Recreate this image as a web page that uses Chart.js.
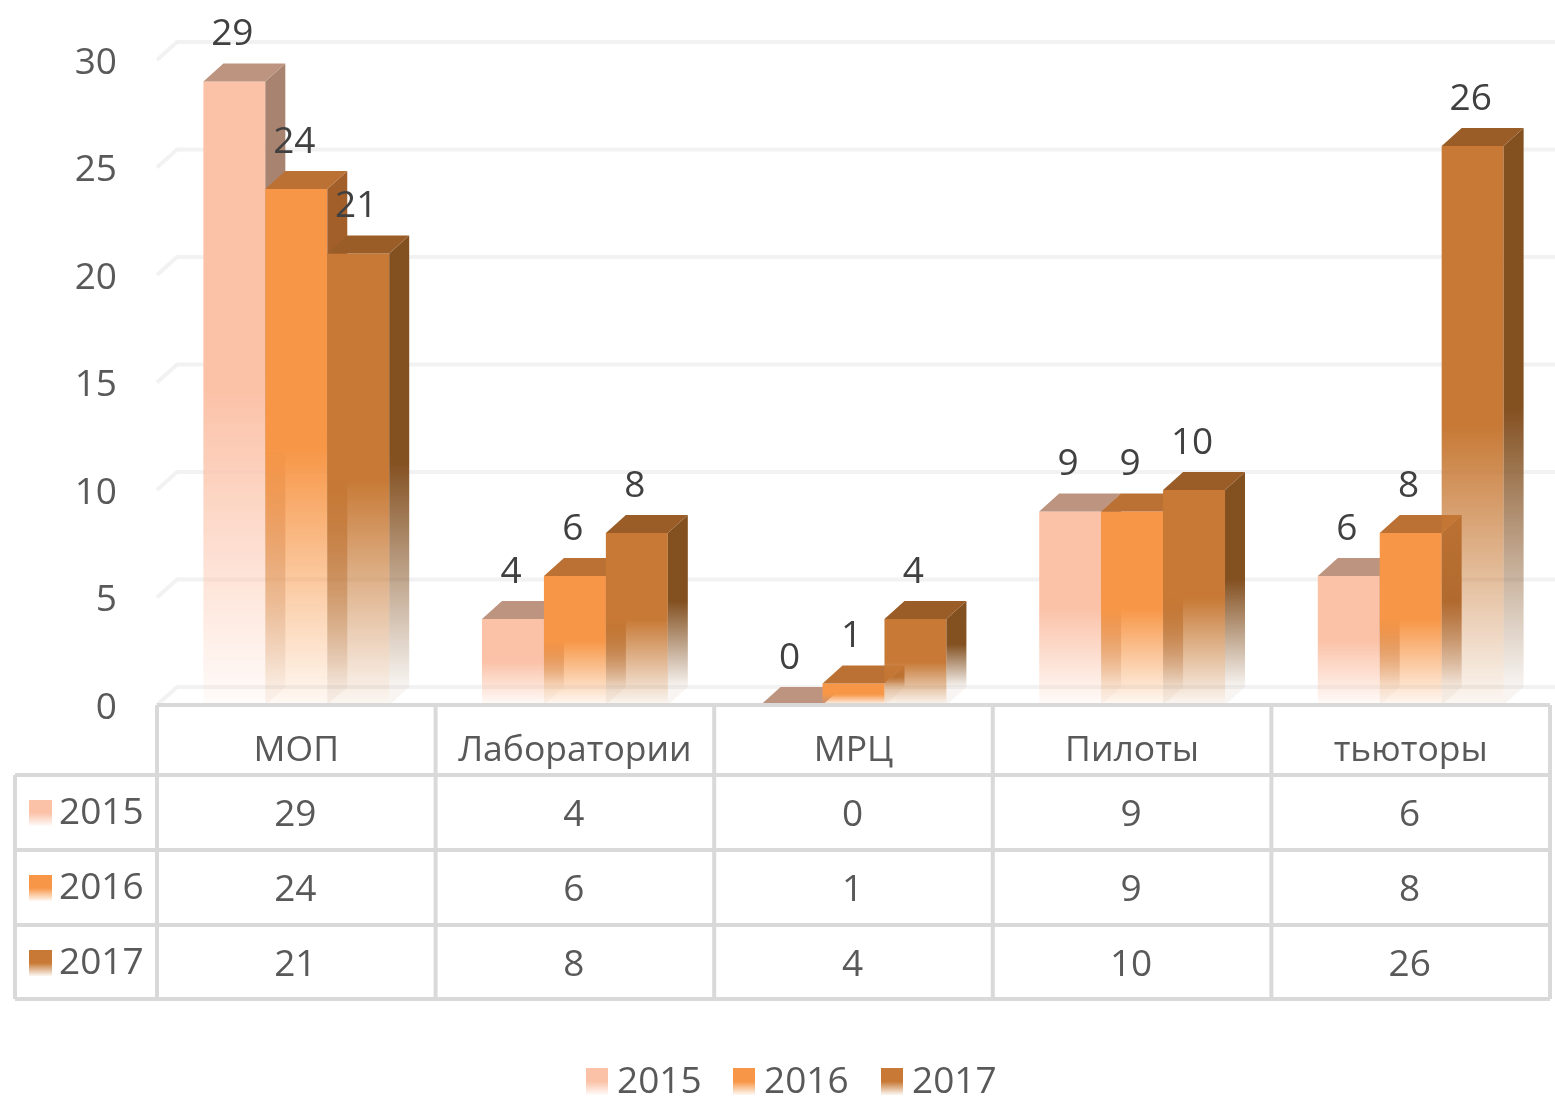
<!DOCTYPE html>
<html lang="ru">
  <head>
    <meta charset="UTF-8" />
    <title>Chart</title>
    <script src="https://cdn.jsdelivr.net/npm/chart.js"></script>
    <style>
      body {
        margin: 0;
        background: #ffffff;
      }
      canvas {
        display: block;
        filter: blur(0.6px);
      }
    </style>
  </head>
  <body>
    <canvas id="barChart" width="1555" height="1098"></canvas>

    <script>
      const categories = ["МОП", "Лаборатории", "МРЦ", "Пилоты", "тьюторы"];
      const seriesNames = ["2015", "2016", "2017"];
      const values2015 = [29, 4, 0, 9, 6];
      const values2016 = [24, 6, 1, 9, 8];
      const values2017 = [21, 8, 4, 10, 26];

      const frontColors = ["251,194,168", "247,150,70", "199,121,53"];
      const topColors = ["189,148,128", "188,113,52", "154,93,40"];
      const sideColors = ["168,131,111", "162,95,42", "131,80,32"];

      const textColor = "#595959";
      const lineColor = "#d9d9d9";
      const wallColor = "#f2f2f2";
      const fontName = "'Open Sans'";
      const fontSize = 37;
      const depthX = 20;
      const depthY = 18;

      function fade(ctx, top, bottom, rgb) {
        const g = ctx.createLinearGradient(0, top, 0, bottom);
        g.addColorStop(0, `rgba(${rgb},1)`);
        g.addColorStop(0.5, `rgba(${rgb},1)`);
        g.addColorStop(1, `rgba(${rgb},0.06)`);
        return g;
      }

      function barFill(context) {
        const solid = `rgb(${frontColors[context.datasetIndex]})`;
        const yScale = context.chart.scales.y;
        if (!yScale || !context.parsed) return solid;
        const top = yScale.getPixelForValue(context.parsed.y);
        const bottom = yScale.getPixelForValue(0);
        // scales have no pixels yet during the first pass
        if (!Number.isFinite(top) || !Number.isFinite(bottom)) return solid;
        return fade(context.chart.ctx, top, bottom, frontColors[context.datasetIndex]);
      }

      function polygon(ctx, points, fill) {
        ctx.fillStyle = fill;
        ctx.beginPath();
        points.forEach((p, i) => (i ? ctx.lineTo(p[0], p[1]) : ctx.moveTo(p[0], p[1])));
        ctx.closePath();
        ctx.fill();
      }

      // top and side faces of one series
      function drawFaces(ctx, meta, i) {
        meta.data.forEach((bar) => {
          const left = bar.x - bar.width / 2;
          const right = bar.x + bar.width / 2;
          polygon(
            ctx,
            [
              [right, bar.y],
              [right + depthX, bar.y - depthY],
              [right + depthX, bar.base - depthY],
              [right, bar.base],
            ],
            fade(ctx, bar.y - depthY, bar.base - depthY, sideColors[i])
          );
          polygon(
            ctx,
            [
              [left, bar.y],
              [left + depthX, bar.y - depthY],
              [right + depthX, bar.y - depthY],
              [right, bar.y],
            ],
            `rgb(${topColors[i]})`
          );
        });
      }

      const threeD = {
        id: "threeD",
        beforeDatasetsDraw(chart) {
          const { ctx, chartArea, scales } = chart;
          ctx.save();
          ctx.strokeStyle = wallColor;
          ctx.lineWidth = 4;
          scales.y.ticks.forEach((tick) => {
            const y = scales.y.getPixelForValue(tick.value);
            ctx.beginPath();
            ctx.moveTo(chartArea.left, y);
            ctx.lineTo(chartArea.left + depthX, y - depthY);
            ctx.lineTo(chartArea.right + 5, y - depthY);
            ctx.stroke();
          });
          // Chart.js paints the last series first, here the first has to go first
          chart.data.datasets.forEach((set, i) => {
            const meta = chart.getDatasetMeta(i);
            meta.controller.draw();
            drawFaces(ctx, meta, i);
          });
          ctx.restore();
        },
        beforeDatasetDraw() {
          return false;
        },
        afterDatasetsDraw(chart) {
          const { ctx, scales, data } = chart;
          const x = scales.x;
          const rowTops = [775, 850, 925];
          const tableBottom = 999;
          const colWidth = x.getPixelForTick(1) - x.getPixelForTick(0);
          const left = x.getPixelForTick(0) - colWidth / 2;
          const right = x.getPixelForTick(categories.length - 1) + colWidth / 2;

          ctx.save();
          ctx.font = `${fontSize}px ${fontName}`;
          ctx.textBaseline = "middle";

          // y tick labels
          ctx.fillStyle = textColor;
          ctx.textAlign = "right";
          scales.y.ticks.forEach((tick) => {
            ctx.fillText(tick.label, 117, scales.y.getPixelForValue(tick.value) + 3);
          });

          // value labels over the bars
          ctx.textAlign = "center";
          ctx.fillStyle = "#404040";
          data.datasets.forEach((set, i) => {
            chart.getDatasetMeta(i).data.forEach((bar, j) => {
              ctx.fillText(set.data[j], bar.x - 2, bar.y - depthY - 29);
            });
          });

          // data table grid
          ctx.strokeStyle = lineColor;
          ctx.lineWidth = 4;
          const hLine = (y, from) => {
            ctx.beginPath();
            ctx.moveTo(from, y);
            ctx.lineTo(right, y);
            ctx.stroke();
          };
          const vLine = (px, from) => {
            ctx.beginPath();
            ctx.moveTo(px, from);
            ctx.lineTo(px, tableBottom);
            ctx.stroke();
          };
          hLine(scales.y.getPixelForValue(0), left);
          rowTops.forEach((y) => hLine(y, 15));
          hLine(tableBottom, 15);
          vLine(15, rowTops[0]);
          for (let c = 0; c <= categories.length; c++) {
            vLine(left + c * colWidth, scales.y.getPixelForValue(0));
          }

          // data table text and swatches
          data.datasets.forEach((set, i) => {
            const rowMid = rowTops[i] + 38;
            ctx.fillStyle = textColor;
            ctx.textAlign = "center";
            set.data.forEach((v, j) => {
              ctx.fillText(v, x.getPixelForTick(j) - 1, rowMid + 2);
            });
            ctx.textAlign = "left";
            ctx.fillText(set.label, 59, rowMid);
            ctx.fillStyle = fade(ctx, rowMid - 13, rowMid + 13, frontColors[i]);
            ctx.fillRect(29, rowMid - 13, 23, 26);
          });

          // legend row
          const legendX = [586, 733, 881];
          data.datasets.forEach((set, i) => {
            ctx.fillStyle = fade(ctx, 1068, 1095, frontColors[i]);
            ctx.fillRect(legendX[i], 1068, 22, 27);
            ctx.fillStyle = textColor;
            ctx.textAlign = "left";
            ctx.fillText(set.label, legendX[i] + 31, 1082);
          });
          ctx.restore();
        },
      };

      new Chart(document.getElementById("barChart"), {
        type: "bar",
        data: {
          labels: categories,
          datasets: [
            { label: seriesNames[0], data: values2015, backgroundColor: barFill },
            { label: seriesNames[1], data: values2016, backgroundColor: barFill },
            { label: seriesNames[2], data: values2017, backgroundColor: barFill },
          ],
        },
        options: {
          responsive: false,
          animation: false,
          layout: { padding: { top: 60, right: 5, left: 0, bottom: 0 } },
          categoryPercentage: 0.667,
          barPercentage: 1,
          plugins: {
            legend: { display: false },
            tooltip: { enabled: false },
          },
          scales: {
            x: {
              grid: { display: false },
              border: { display: false },
              afterFit(scale) {
                scale.height = 393;
              },
              ticks: {
                padding: 17,
                maxRotation: 0,
                color: textColor,
                font: { family: fontName, size: 35.5 },
              },
            },
            y: {
              min: 0,
              max: 30,
              grid: { display: false },
              border: { display: false },
              afterFit(scale) {
                scale.width = 157;
              },
              ticks: {
                stepSize: 5,
                display: false,
                font: { family: fontName, size: fontSize },
              },
            },
          },
        },
        plugins: [threeD],
      });
    </script>
  </body>
</html>
